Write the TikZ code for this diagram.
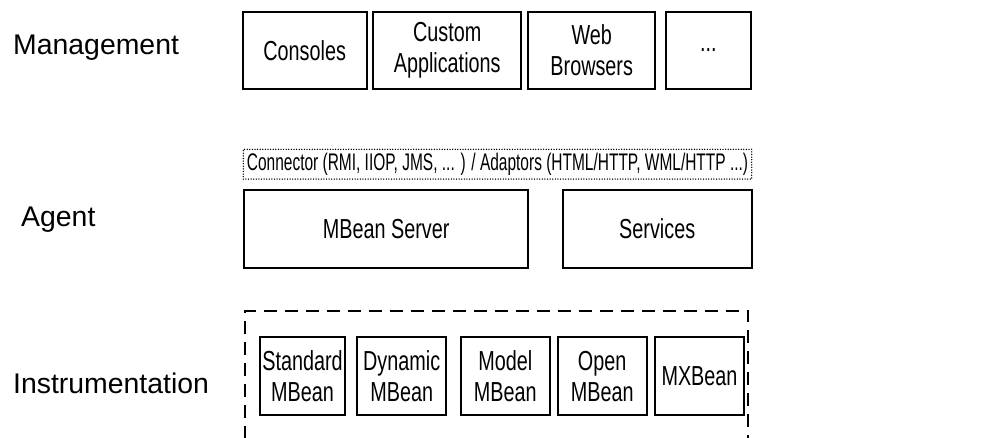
\documentclass[tikz,border=0pt]{standalone}
\usepackage{fontspec}
\setmainfont{Liberation Sans}
\newfontfamily\cond[FakeStretch=0.72]{Liberation Sans}
\newfontfamily\condx[FakeStretch=0.645]{Liberation Sans}
\begin{document}
\begin{tikzpicture}[x=1pt,y=-1pt,
  lbl/.style={anchor=west,inner sep=0pt,font=\fontsize{28.4}{32}\selectfont},
  box/.style={draw,line width=1.8pt,rectangle,inner sep=0pt,align=center,font=\cond\fontsize{27.5}{31}\selectfont},
  dotbox/.style={draw,line width=1.5pt,dash pattern=on 0pt off 2.6pt,line cap=round,rectangle,inner sep=0pt,font=\condx\fontsize{24}{28}\selectfont},
  dashbox/.style={draw,line width=1.9pt,dash pattern=on 13pt off 8pt}]
\clip (0,0) rectangle (1000,437);
\fill[white] (0,0) rectangle (1000,437);
% layer labels
\node[lbl] (mgmt) at (13,48) {Management};
\node[lbl] (agent) at (21,220) {Agent};
\node[lbl] (instr) at (13,383) {Instrumentation};
% management
\node[box,minimum width=124pt,minimum height=77.6pt] (consoles) at (304.7,50.5) {Consoles};
\node[box,minimum width=147.7pt,minimum height=77.6pt] (custom) at (447.2,50.5) {Custom\\Applications};
\node[box,minimum width=126.7pt,minimum height=77.6pt] (web) at (591.7,50.5) {Web\\Browsers};
\node[box,minimum width=84.7pt,minimum height=77.6pt] (more) at (708.3,50.5) {...};
% agent
\node[dotbox,minimum width=508.4pt,minimum height=29.7pt] (conn) at (497.5,164.2) {Connector (RMI, IIOP, JMS, ... ) / Adaptors (HTML/HTTP, WML/HTTP ...)};
\node[box,minimum width=284.3pt,minimum height=77.7pt] (server) at (386.2,228.8) {MBean Server};
\node[box,minimum width=189pt,minimum height=77.7pt] (services) at (657.2,228.8) {Services};
% instrumentation
\coordinate (dl) at (245,460);
\coordinate (dtl) at (245,310.7);
\coordinate (dtr) at (748.3,310.7);
\coordinate (dr) at (748.3,460);
\draw[dashbox] (dl) -- (dtl) -- (dtr) -- (dr);
\node[box,minimum width=85pt,minimum height=77.7pt] (std) at (302.5,376.2) {Standard\\MBean};
\node[box,minimum width=88.7pt,minimum height=77.7pt] (dyn) at (401.7,376.2) {Dynamic\\MBean};
\node[box,minimum width=89.3pt,minimum height=77.7pt] (model) at (505.3,376.2) {Model\\MBean};
\node[box,minimum width=89pt,minimum height=77.7pt] (open) at (602.2,376.2) {Open\\MBean};
\node[box,minimum width=89pt,minimum height=77.7pt] (mx) at (699.5,376.2) {MXBean};
\end{tikzpicture}
\end{document}
